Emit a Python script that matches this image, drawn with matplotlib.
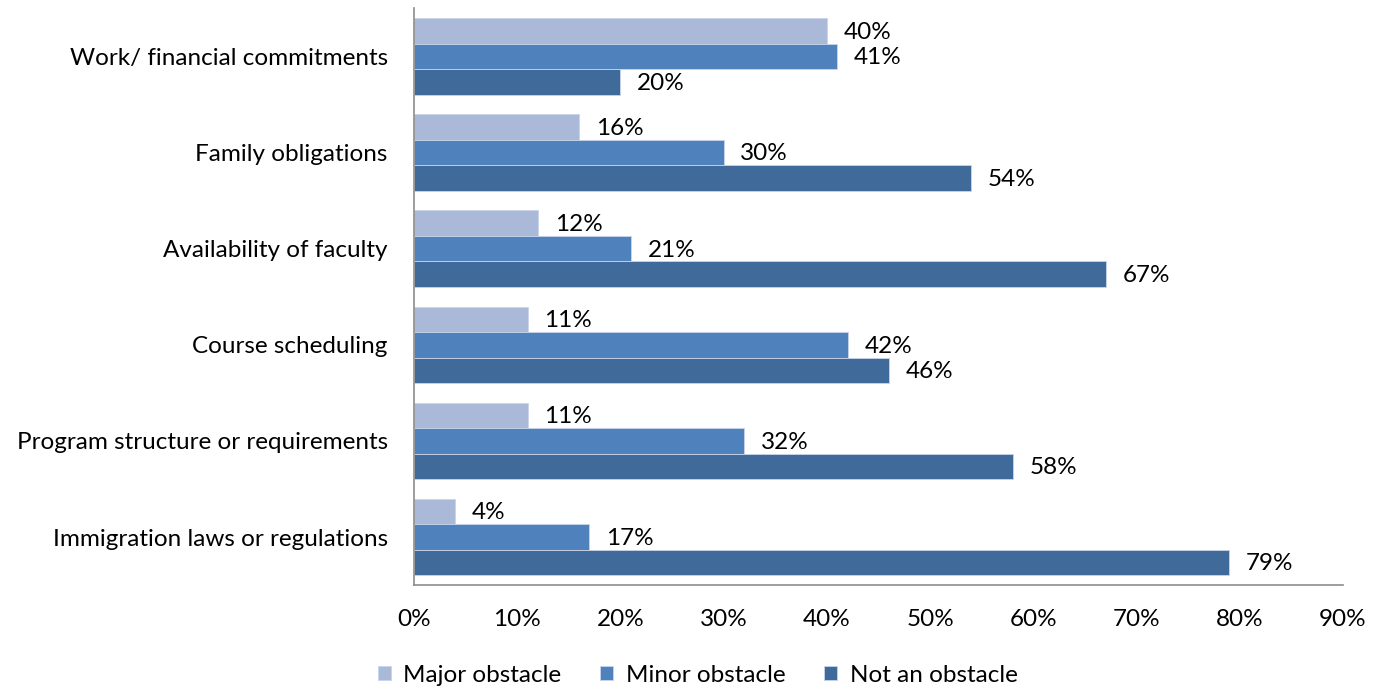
import matplotlib
matplotlib.use("Agg")
import matplotlib.pyplot as plt
import numpy as np

# Dados do gráfico (de cima para baixo)
categorias = ["Work/ financial commitments", "Family obligations", "Availability of faculty",
              "Course scheduling", "Program structure or requirements", "Immigration laws or regulations"]
major = [40, 16, 12, 11, 11, 4]
minor = [41, 30, 21, 42, 32, 17]
nao_obstaculo = [20, 54, 67, 46, 58, 79]
series_nomes = ["Major obstacle", "Minor obstacle", "Not an obstacle"]
cores = ["#AAB9D7", "#4F81BD", "#3F6A9A"]
ticks_x = [0, 10, 20, 30, 40, 50, 60, 70, 80, 90]

plt.rcParams['font.family'] = ['Lato', 'DejaVu Sans']
fs = 17.5

fig = plt.figure(figsize=(13.87, 6.9), dpi=100)
ax = fig.add_axes([0.2985, 0.152, 0.6698, 0.836])

y = np.arange(len(categorias))
altura = 0.265
for i, (vals, nome, cor) in enumerate(zip([major, minor, nao_obstaculo], series_nomes, cores)):
    pos = y + (i - 1) * altura
    ax.barh(pos, vals, height=altura, color=cor, label=nome,
            edgecolor="#C9D5EA", linewidth=0.6)
    for p, v in zip(pos, vals):
        ax.annotate(f"{v}%", (v, p), xytext=(12, -1), textcoords="offset points",
                    ha="left", va="center", fontsize=fs)

ax.set_ylim(len(categorias) - 0.5, -0.5)
ax.set_xlim(0, 90)
ax.set_yticks(y)
ax.set_yticklabels(categorias, fontsize=fs)
ax.set_xticks(ticks_x)
ax.set_xticklabels([f"{t}%" for t in ticks_x], fontsize=fs)
ax.tick_params(axis="both", length=0)
ax.tick_params(axis="y", pad=19)
ax.tick_params(axis="x", pad=17)

for lado in ["top", "right"]:
    ax.spines[lado].set_visible(False)
for lado in ["left", "bottom"]:
    ax.spines[lado].set_color("#8C8C8C")
    ax.spines[lado].set_linewidth(1.2)

ax.legend(loc="center", bbox_to_anchor=(0.5 * (380 + 1015) / 1387, 1 - 675 / 690),
          bbox_transform=fig.transFigure, ncol=3, frameon=False, fontsize=fs,
          handlelength=0.55, handleheight=0.55, handletextpad=0.5, columnspacing=1.6,
          borderpad=0.1)

fig.savefig("out.png", dpi=100)
